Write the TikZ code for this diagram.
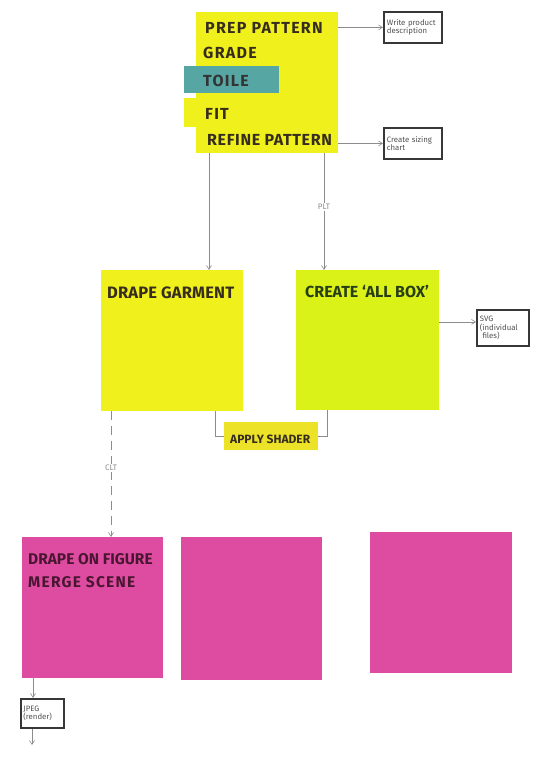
\documentclass[tikz,border=0pt]{standalone}
\usepackage{fontspec}
\setmainfont{Fira Sans}
\usepackage{xcolor}
\usepackage{tikz}
\usetikzlibrary{arrows.meta,calc}
\definecolor{AmarilloNota}{RGB}{240,240,28}
\definecolor{LimaNota}{RGB}{218,242,24}
\definecolor{SombraNota}{RGB}{236,226,40}
\definecolor{TealNota}{RGB}{86,166,164}
\definecolor{RosaNota}{RGB}{222,76,162}
\definecolor{LineaGris}{RGB}{140,140,140}
\definecolor{BordeGris}{RGB}{55,55,55}
\definecolor{TintaGris}{RGB}{80,80,80}
\definecolor{TintaOscura}{RGB}{55,45,30}
\definecolor{TintaVerde}{RGB}{40,62,22}
\definecolor{TintaRosa}{RGB}{75,22,50}

\tikzset{
  nota/.style={anchor=north west,inner sep=0pt,outer sep=0pt},
  rotulo/.style={anchor=base west,inner sep=0pt,text=TintaOscura,
    font=\fontsize{16}{16}\selectfont\bfseries\addfontfeatures{LetterSpace=8}},
  salida/.style={anchor=north west,draw=BordeGris,line width=1.8pt,inner sep=1.5pt,
    text=TintaGris,align=left,font=\fontsize{7.8}{8.2}\selectfont},
  flecha/.style={-{Straight Barb[length=4pt,width=5pt]},draw=LineaGris,line width=0.6pt},
  linea/.style={draw=LineaGris,line width=0.6pt},
  etiq/.style={fill=white,inner sep=1pt,text=LineaGris,font=\fontsize{8}{8}\selectfont}
}

\begin{document}
\begin{tikzpicture}[x=1pt,y=-1pt]
  \useasboundingbox (0,0) rectangle (546,757);
  % notas amarillas de arriba
  \node[nota,fill=AmarilloNota,minimum width=142pt,minimum height=141pt] (patron) at (196,12) {};
  \node[nota,fill=TealNota,minimum width=95pt,minimum height=27pt] (toile) at (184,66) {};
  \node[nota,fill=AmarilloNota,minimum width=95pt,minimum height=29pt] (fit) at (184,98) {};
  \node[rotulo] (tprep) at (205,34) {PREP PATTERN};
  \node[rotulo] (tgrade) at (203,59) {GRADE};
  \node[rotulo,text=black!80] (ttoile) at (203,87) {TOILE};
  \node[rotulo] (tfit) at (205,120) {FIT};
  \node[rotulo,font=\fontsize{16}{16}\selectfont\bfseries\addfontfeatures{LetterSpace=4}] (trefine) at (207,146) {REFINE PATTERN};
  % cajas de salida
  \node[salida,minimum width=58pt,minimum height=31pt,text width=52pt] (desc) at (383,11)
    {Write product\\description};
  \node[salida,minimum width=58pt,minimum height=31pt,text width=52pt] (talla) at (383,127)
    {Create sizing\\chart};
  \draw[flecha] (desc.west -| patron.east) -- (desc.west);
  \draw[flecha] (talla.west -| patron.east) -- (talla.west);
  % notas del medio
  \node[nota,fill=AmarilloNota,minimum width=142pt,minimum height=141pt] (drape) at (101,270) {};
  \node[nota,fill=LimaNota,minimum width=143pt,minimum height=140pt] (allbox) at (296,270) {};
  \node[rotulo,font=\fontsize{16.5}{17}\selectfont\bfseries\addfontfeatures{LetterSpace=1}] (tdrape) at (107,298) {DRAPE GARMENT};
  \node[rotulo,text=TintaVerde,font=\fontsize{16}{16}\selectfont\bfseries] (tallbox) at (305,297) {CREATE `ALL BOX'};
  \draw[flecha] ([xshift=13pt]patron.south west) -- ([xshift=13pt]patron.south west |- drape.north);
  \draw[flecha] ([xshift=128pt]patron.south west) -- ([xshift=128pt]patron.south west |- allbox.north)
    node[etiq,pos=0.46] {PLT};
  \node[salida,minimum width=52pt,minimum height=36pt,text width=46pt] (svg) at (476,309)
    {SVG\\(individual\\\ files)};
  \draw[flecha] ([yshift=6pt]svg.west -| allbox.east) -- ([yshift=6pt]svg.west);
  \node[nota,fill=SombraNota,minimum width=94pt,minimum height=28pt] (shader) at (224,422) {};
  \node[rotulo,font=\fontsize{12}{12}\selectfont\bfseries] (tshader) at (230,443) {APPLY SHADER};
  \draw[linea] ([xshift=114pt]drape.south west) |- (shader.west);
  \draw[linea] ([xshift=31pt]allbox.south west) |- (shader.east);
  % notas rosas de abajo
  \node[nota,fill=RosaNota,minimum width=141pt,minimum height=141pt] (figura) at (22,537) {};
  \node[nota,fill=RosaNota,minimum width=141pt,minimum height=143pt] (rosa2) at (181,537) {};
  \node[nota,fill=RosaNota,minimum width=142pt,minimum height=141pt] (rosa3) at (370,532) {};
  \node[rotulo,text=TintaRosa,font=\fontsize{15.5}{16}\selectfont\bfseries] (tfigura) at (28,564) {DRAPE ON FIGURE};
  \node[rotulo,text=TintaRosa,font=\fontsize{15.5}{16}\selectfont\bfseries\addfontfeatures{LetterSpace=8}] (tmerge) at (28,587) {MERGE SCENE};
  \draw[flecha,dashed,dash pattern=on 9pt off 6pt] ([xshift=10pt]drape.south west)
    -- ([xshift=10pt]drape.south west |- figura.north) node[etiq,pos=0.45] {CLT};
  \node[salida,minimum width=43pt,minimum height=29pt,text width=38pt] (jpeg) at (20,698)
    {JPEG\\(render)};
  \coordinate (fin) at (32,745);
  \draw[flecha] ([xshift=11pt]figura.south west) -- ([xshift=11pt]figura.south west |- jpeg.north);
  \draw[flecha] (jpeg.south -| fin) -- (fin);
\end{tikzpicture}
\end{document}
